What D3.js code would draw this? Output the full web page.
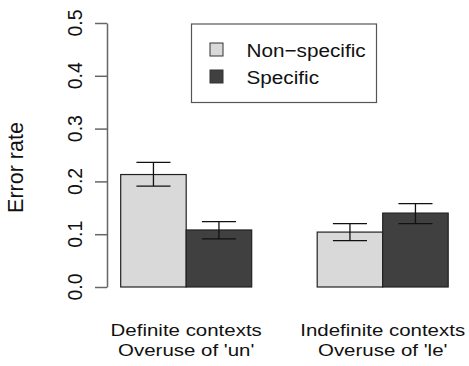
<html>
<head>
<meta charset="utf-8">
<style>
  body { margin: 0; background: white; }
  text { font-family: "Liberation Sans", Arial, sans-serif; fill: #111; }
</style>
</head>
<body>
<svg id="chart" width="469" height="366" style="background:white;"></svg>

<script src="https://d3js.org/d3.v7.min.js"></script>
<script>
// data
var groups = [["Definite contexts", "Overuse of 'un'"], ["Indefinite contexts", "Overuse of 'le'"]];
var series = ["Non\u2212specific", "Specific"];
var nonSpecific = [0.213, 0.104];
var nonSpecificLo = [0.191, 0.088];
var nonSpecificHi = [0.236, 0.120];
var specific = [0.108, 0.140];
var specificLo = [0.091, 0.120];
var specificHi = [0.124, 0.158];
var yTicks = [0, 0.1, 0.2, 0.3, 0.4, 0.5];
var yTickLabels = ["0.0", "0.1", "0.2", "0.3", "0.4", "0.5"];
var fills = ["#d9d9d9", "#404040"];

var svg = d3.select('#chart');

// bars sit in R barplot units: space 1, bar, bar, space, bar, bar
var x = d3.scaleLinear().domain([0, 6]).range([55.2, 448.2]);
var y = d3.scaleLinear().domain([0, 0.5]).range([287, 23]);

var bars = [];
groups.forEach(function(g, i) {
  var start = 1 + i * 3;
  bars.push({u: start, v: nonSpecific[i], lo: nonSpecificLo[i], hi: nonSpecificHi[i], s: 0});
  bars.push({u: start + 1, v: specific[i], lo: specificLo[i], hi: specificHi[i], s: 1});
});

svg.selectAll('rect.bar')
  .data(bars)
  .enter()
  .append('rect')
  .attr('class', 'bar')
  .attr('x', d => x(d.u))
  .attr('width', d => x(d.u + 1) - x(d.u))
  .attr('y', d => y(d.v))
  .attr('height', d => y(0) - y(d.v))
  .attr('fill', d => fills[d.s])
  .attr('stroke', '#222')
  .attr('stroke-width', 1.2);

// error bars
var half = (x(1) - x(0)) * 0.26;
var eb = svg.selectAll('g.err').data(bars).enter().append('g').attr('class', 'err')
  .attr('stroke', '#111').attr('stroke-width', 1.3);
eb.append('line')
  .attr('x1', d => x(d.u + 0.5)).attr('x2', d => x(d.u + 0.5))
  .attr('y1', d => y(d.lo)).attr('y2', d => y(d.hi));
eb.append('line')
  .attr('x1', d => x(d.u + 0.5) - half).attr('x2', d => x(d.u + 0.5) + half)
  .attr('y1', d => y(d.hi)).attr('y2', d => y(d.hi));
eb.append('line')
  .attr('x1', d => x(d.u + 0.5) - half).attr('x2', d => x(d.u + 0.5) + half)
  .attr('y1', d => y(d.lo)).attr('y2', d => y(d.lo));

// y axis
var axisX = 107;
var axis = svg.append('g')
  .attr('transform', 'translate(' + axisX + ',0)')
  .call(d3.axisLeft(y).tickValues(yTicks).tickFormat(() => '').tickSize(12).tickSizeOuter(0));
axis.select('.domain').attr('stroke', '#666').attr('stroke-width', 1.5);
axis.selectAll('.tick line').attr('stroke', '#666').attr('stroke-width', 1.5);

svg.selectAll('text.ytick')
  .data(yTicks)
  .enter()
  .append('text')
  .attr('class', 'ytick')
  .attr('transform', d => 'translate(81.5,' + y(d) + ') rotate(-90)')
  .attr('text-anchor', 'middle')
  .attr('font-size', 19.5)
  .text((d, i) => yTickLabels[i]);

svg.append('text')
  .attr('transform', 'translate(23,167.5) rotate(-90)')
  .attr('text-anchor', 'middle')
  .attr('font-size', 21.5)
  .text('Error rate');

// group labels, two lines each
var gl = svg.selectAll('g.glab').data(groups).enter().append('g')
  .attr('class', 'glab')
  .attr('transform', (d, i) => 'translate(' + x(2 + i * 3) + ',0)');
gl.append('text')
  .attr('transform', 'translate(0,335.5) scale(1.24,1)')
  .attr('text-anchor', 'middle')
  .attr('font-size', 16.5)
  .text(d => d[0]);
gl.append('text')
  .attr('transform', 'translate(0,355.5) scale(1.24,1)')
  .attr('text-anchor', 'middle')
  .attr('font-size', 16.5)
  .text(d => d[1]);

// legend
var legend = svg.append('g');
legend.append('rect')
  .attr('x', 191.5).attr('y', 24).attr('width', 185).attr('height', 78.5)
  .attr('fill', 'white').attr('stroke', '#555').attr('stroke-width', 1.2);
var items = legend.selectAll('g.item').data(series).enter().append('g').attr('class', 'item');
items.append('rect')
  .attr('x', 210).attr('y', (d, i) => 43 + i * 27)
  .attr('width', 13).attr('height', 13)
  .attr('fill', (d, i) => fills[i]).attr('stroke', '#333').attr('stroke-width', 1);
items.append('text')
  .attr('transform', (d, i) => 'translate(246.5,' + (56.5 + i * 27) + ') scale(1.12,1)')
  .attr('font-size', 18.5)
  .text(d => d);
</script>
</body>
</html>
